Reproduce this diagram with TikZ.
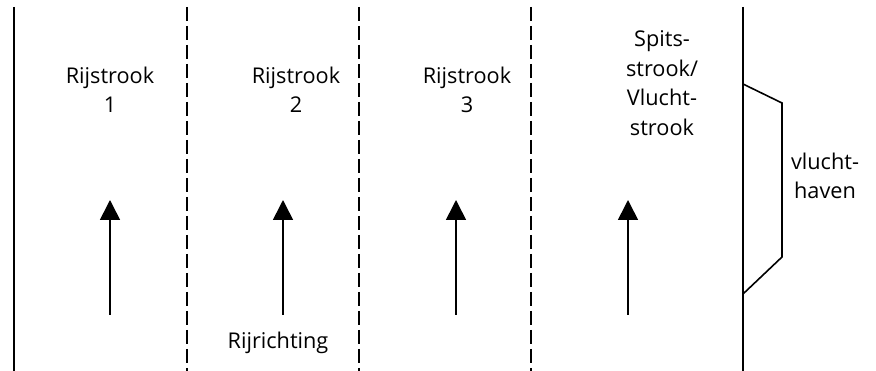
\documentclass[tikz,border=0pt]{standalone}
\usepackage{fontspec}
\setmainfont{Open Sans}
\usetikzlibrary{arrows.meta}
\begin{document}
\begin{tikzpicture}[x=1pt,y=-1pt,
  lbl/.style={align=center,font=\fontsize{21.7}{29.5}\selectfont,inner sep=0pt},
  edge/.style={line width=2pt},
  lane/.style={line width=1.6pt,dash pattern=on 14pt off 5pt},
  dir/.style={line width=1.6pt,-{Triangle[length=20pt,width=20pt]}}]
\useasboundingbox (0,0) rectangle (876,371);
\draw[edge] (14,7) -- (14,371);
\draw[lane] (187,7) -- (187,371);
\draw[lane] (359,7) -- (359,371);
\draw[lane] (531,7) -- (531,371);
\draw[edge] (743,7) -- (743,371);
\draw[line width=1.6pt] (743,84) -- (782,103) -- (782,257) -- (743,294);
\node[lbl] (l1) at (110,90) {Rijstrook\\1};
\node[lbl] (l2) at (296,90) {Rijstrook\\2};
\node[lbl] (l3) at (467,90) {Rijstrook\\3};
\node[lbl] (l4) at (662,83) {Spits-\\strook/\\Vlucht-\\strook};
\node[lbl] (vh) at (825,176) {vlucht-\\haven};
\node[lbl] (rr) at (278,343) {Rijrichting};
\foreach \i/\x in {1/110,2/283,3/456,4/628}{
  \coordinate (t\i) at (\x,315);
  \coordinate (h\i) at (\x,200);
  \draw[dir] (t\i) -- (h\i);
}
\end{tikzpicture}
\end{document}
